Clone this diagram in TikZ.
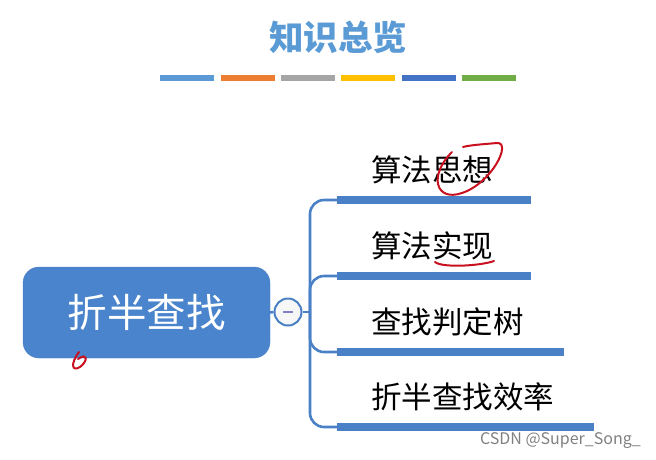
\documentclass[tikz,border=0pt]{standalone}
\usepackage{fontspec}
\setmainfont{Noto Sans CJK SC}
\usetikzlibrary{calc}
\definecolor{titleblue}{HTML}{5B9BD5}
\definecolor{rootblue}{HTML}{4A84CC}
\definecolor{lineblue}{HTML}{4A80C6}
\definecolor{inkred}{HTML}{C8101E}

\begin{document}
\begin{tikzpicture}[x=1pt, y=-1pt, every node/.style={inner sep=0pt},
  link/.style={draw=lineblue, line width=2.6pt},
  barline/.style={lineblue, line width=8pt},
  stripe/.style={line width=6pt},
  leaf/.style={anchor=west, font=\fontsize{30.5}{30.5}\selectfont},
  scribble/.style={draw=inkred, line width=2pt, line cap=round}]
  \useasboundingbox (0,0) rectangle (656,459);
  \node[font=\bfseries\fontsize{34.5}{34.5}\selectfont, text=titleblue] (title) at (338,37) {知识总览};
  \foreach \c [count=\i] in {5B9BD5, ED7D31, A5A5A5, FFC000, 4472C4, 70AD47} {
    \definecolor{stripe\i}{HTML}{\c}
    \draw[stripe, stripe\i] (100+\i*60.3,78) -- (154+\i*60.3,78);
  }
  \node[draw=lineblue, fill=rootblue, rounded corners=16pt, minimum width=247pt, minimum height=91pt, text=white, font=\fontsize{39.5}{39.5}\selectfont] (root) at (146.5,312.5) {折半查找};
  \node[circle, draw=lineblue, line width=2pt, fill=gray!6, minimum size=27pt] (fold) at (288,312) {};
  \draw[line width=2.2pt, color=gray!60!blue!70] ($(fold.center)+(-5,0)$) -- ($(fold.center)+(5,0)$);
  \draw[link] (root.east) -- (fold.west);
  \coordinate (hub) at (310,312);
  \draw[link] (fold.east) -- (hub);
  \foreach \y/\len [count=\i] in {200/531, 276/531, 352/564, 427/594} {
    \coordinate (bar\i) at (337,\y);
    \draw[link, rounded corners=14pt] (hub) |- (bar\i);
    \draw[barline] (bar\i) -- (\len,\y);
  }
  \node[leaf] (idea) at (371,170) {算法思想};
  \node[leaf] (impl) at (371,246) {算法实现};
  \node[leaf] (tree) at (371,322) {查找判定树};
  \node[leaf] (cost) at (371,397) {折半查找效率};
  \draw[scribble] (452,152) .. controls (428,176) and (436,202) .. (462,193) .. controls (492,183) and (512,142) .. (497,143) .. controls (486,144) and (470,145) .. (463,147);
  \draw[scribble] (435,262) .. controls (442,268) and (480,266) .. (494,261);
  \draw[scribble] (79,352) .. controls (70,364) and (72,372) .. (80,367) .. controls (88,361) and (88,352) .. (78,359);
  \node[anchor=east, text=gray, font=\fontsize{16}{16}\selectfont] (mark) at (641,441) {CSDN @Super\_Song\_};
\end{tikzpicture}
\end{document}
